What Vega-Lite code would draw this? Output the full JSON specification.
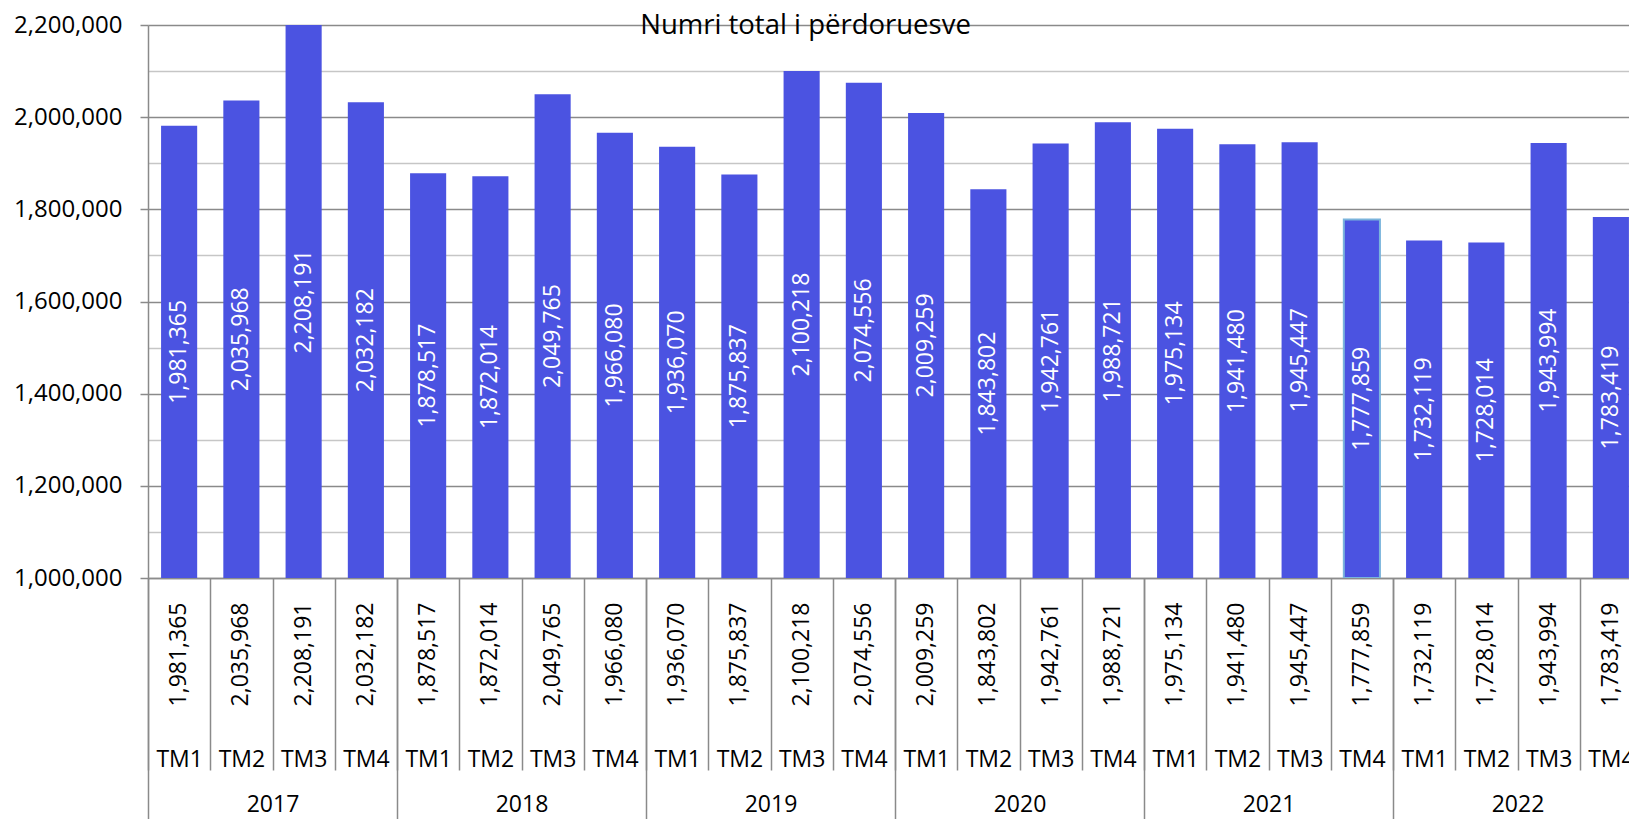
{
  "$schema": "https://vega.github.io/schema/vega-lite/v6.json",
  "autosize": "none",
  "width": 1481,
  "height": 553,
  "padding": {"left": 148, "top": 25, "right": 0, "bottom": 241},
  "background": "white",
  "title": {
    "text": "Numri total i përdoruesve",
    "frame": "group",
    "anchor": "middle",
    "dx": -83,
    "offset": -48,
    "baseline": "alphabetic",
    "font": "Open Sans",
    "fontSize": 27.5,
    "fontWeight": "normal",
    "color": "black"
  },
  "config": {"view": {"stroke": null}},
  "data": {
    "values": [
      {"year": "2017", "q": "TM1", "v": 1981365},
      {"year": "2017", "q": "TM2", "v": 2035968},
      {"year": "2017", "q": "TM3", "v": 2208191},
      {"year": "2017", "q": "TM4", "v": 2032182},
      {"year": "2018", "q": "TM1", "v": 1878517},
      {"year": "2018", "q": "TM2", "v": 1872014},
      {"year": "2018", "q": "TM3", "v": 2049765},
      {"year": "2018", "q": "TM4", "v": 1966080},
      {"year": "2019", "q": "TM1", "v": 1936070},
      {"year": "2019", "q": "TM2", "v": 1875837},
      {"year": "2019", "q": "TM3", "v": 2100218},
      {"year": "2019", "q": "TM4", "v": 2074556},
      {"year": "2020", "q": "TM1", "v": 2009259},
      {"year": "2020", "q": "TM2", "v": 1843802},
      {"year": "2020", "q": "TM3", "v": 1942761},
      {"year": "2020", "q": "TM4", "v": 1988721},
      {"year": "2021", "q": "TM1", "v": 1975134},
      {"year": "2021", "q": "TM2", "v": 1941480},
      {"year": "2021", "q": "TM3", "v": 1945447},
      {"year": "2021", "q": "TM4", "v": 1777859},
      {"year": "2022", "q": "TM1", "v": 1732119},
      {"year": "2022", "q": "TM2", "v": 1728014},
      {"year": "2022", "q": "TM3", "v": 1943994},
      {"year": "2022", "q": "TM4", "v": 1783419}
    ]
  },
  "transform": [
    {"calculate": "datum.year + ' ' + datum.q + ' ' + format(datum.v, ',')", "as": "key"},
    {"calculate": "(1000000 + min(datum.v, 2200000)) / 2", "as": "mid"}
  ],
  "resolve": {"axis": {"x": "independent", "y": "independent"}},
  "layer": [
    {
      "mark": {"type": "bar", "color": "#4B53E1", "clip": true},
      "encoding": {
        "x": {
          "field": "key", "type": "nominal", "sort": null,
          "scale": {"range": [0, 1494], "paddingInner": 0.42, "paddingOuter": 0.21},
          "axis": {
            "orient": "bottom",
            "title": null,
            "labelExpr": "split(datum.value, ' ')[2]",
            "labelAngle": 270,
            "ticks": false,
            "domain": true,
            "domainColor": "#8c8c8c",
            "domainWidth": 1.5,
            "grid": false,
            "labelPadding": 24,
            "labelFont": "Open Sans",
            "labelFontSize": 23,
            "labelColor": "black",
            "labelOverlap": false,
            "labelBound": false
          }
        },
        "y": {
          "field": "v", "type": "quantitative",
          "scale": {"domain": [1000000, 2200000], "nice": false, "zero": false},
          "axis": {
            "orient": "left",
            "title": null,
            "values": [1000000, 1100000, 1200000, 1300000, 1400000, 1500000, 1600000, 1700000, 1800000, 1900000, 2000000, 2100000, 2200000],
            "labelExpr": "datum.value % 200000 === 0 ? format(datum.value, ',') : ''",
            "grid": true,
            "gridColor": {"condition": {"test": "datum.value % 200000 === 0", "value": "#8a8a8a"}, "value": "#c6c6c6"},
            "gridWidth": 1.5,
            "tickSize": 8,
            "tickColor": "#8a8a8a",
            "tickWidth": 1.5,
            "tickOpacity": {"condition": {"test": "datum.value % 200000 === 0", "value": 1}, "value": 0},
            "domainColor": "#8a8a8a",
            "domainWidth": 1.5,
            "labelPadding": 18,
            "labelFont": "Open Sans",
            "labelFontSize": 24,
            "labelColor": "black",
            "labelOverlap": false,
            "labelFlush": false,
            "labelBound": false
          }
        },
        "y2": {"datum": 1000000}
      }
    },
    {
      "transform": [{"filter": "datum.year === '2021' && datum.q === 'TM4'"}],
      "mark": {"type": "bar", "filled": false, "stroke": "#7ab4dc", "strokeWidth": 2, "clip": true},
      "encoding": {
        "x": {
          "field": "key", "type": "nominal", "sort": null,
          "scale": {"range": [0, 1494], "paddingInner": 0.42, "paddingOuter": 0.21},
          "axis": {
            "orient": "bottom",
            "title": null,
            "labelExpr": "indexof(datum.value, 'TM1') >= 0 ? split(datum.value, ' ')[0] : ''",
            "labelAngle": 0,
            "bandPosition": 0.5,
            "tickOffset": -31.125,
            "labelOffset": 124.5,
            "tickSize": 241,
            "tickColor": "#8a8a8a",
            "tickWidth": 1.5,
            "tickOpacity": {"condition": {"test": "indexof(datum.value, 'TM1') >= 0", "value": 1}, "value": 0},
            "domain": false,
            "grid": false,
            "labelPadding": -26,
            "labelFont": "Open Sans",
            "labelFontSize": 23,
            "labelColor": "black",
            "labelOverlap": false,
            "labelBound": false
          }
        },
        "y": {"field": "v", "type": "quantitative", "axis": null},
        "y2": {"datum": 1000000}
      }
    },
    {
      "mark": {"type": "text", "angle": 270, "align": "center", "baseline": "middle", "color": "white", "font": "Open Sans", "fontSize": 23},
      "encoding": {
        "x": {
          "field": "key", "type": "nominal", "sort": null,
          "scale": {"range": [0, 1494], "paddingInner": 0.42, "paddingOuter": 0.21},
          "axis": {
            "orient": "bottom",
            "title": null,
            "labelExpr": "split(datum.value, ' ')[1]",
            "labelAngle": 0,
            "bandPosition": 0.5,
            "tickOffset": -31.125,
            "labelOffset": 31.125,
            "tickSize": 192,
            "tickColor": "#8a8a8a",
            "tickWidth": 1.5,
            "domain": false,
            "grid": false,
            "labelPadding": -22,
            "labelFont": "Open Sans",
            "labelFontSize": 23,
            "labelColor": "black",
            "labelOverlap": false,
            "labelBound": false
          }
        },
        "y": {"field": "mid", "type": "quantitative", "axis": null},
        "text": {"field": "v", "type": "quantitative", "format": ","}
      }
    }
  ]
}
